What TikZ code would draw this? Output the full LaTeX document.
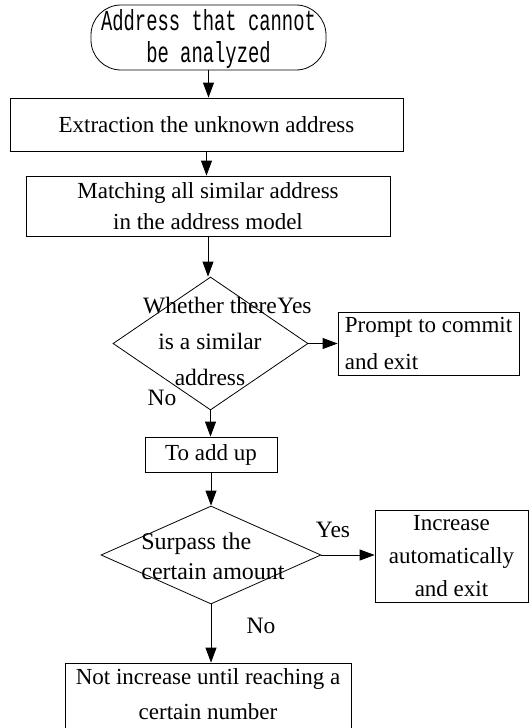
\documentclass[tikz,border=0pt]{standalone}
\usepackage{fontspec}
\setmainfont{Liberation Serif}
\newfontfamily\termfont[FakeStretch=0.65]{Liberation Mono}
\usetikzlibrary{arrows.meta,shapes.geometric}

\begin{document}
\begin{tikzpicture}[x=1pt,y=-1pt,line width=0.8pt,
  terminal/.style={draw,rectangle,rounded corners=30pt,inner sep=0pt,align=center,
    font=\termfont\fontsize{29}{32}\selectfont},
  procbox/.style={draw,rectangle,inner sep=0pt,align=center},
  decision/.style={draw,diamond,inner sep=0pt},
  dectext/.style={inner sep=0pt},
  branch/.style={inner sep=0pt,anchor=base,font=\fontsize{23.5}{28}\selectfont},
  flow/.style={-{Triangle[width=11pt,length=15pt]}}]
\useasboundingbox (0,0) rectangle (529,728);
\clip (0,0) rectangle (529,728);

% start terminal
\node[terminal,minimum width=235pt,minimum height=65pt,text height=49pt,text depth=0pt]
  (start) at (208.5,37.5) {Address that cannot\\be analyzed};

% processing steps
\node[procbox,minimum width=393pt,minimum height=53pt,font=\fontsize{23}{28}\selectfont]
  (extract) at (206.5,124.5) {Extraction the unknown address};
\node[procbox,minimum width=364pt,minimum height=60pt,font=\fontsize{23}{31}\selectfont]
  (match) at (208,206) {Matching all similar address\\in the address model};

% first decision
\node[decision,minimum width=195pt,minimum height=133pt] (dec1) at (210.5,343.5) {};
\node[dectext,align=center,font=\fontsize{23.5}{36}\selectfont] (dec1text) at (210,341)
  {Whether there\\is a similar\\address};
\node[procbox,align=left,minimum width=181pt,minimum height=63pt,font=\fontsize{23}{37}\selectfont]
  (prompt) at (428.5,343.5) {Prompt to commit\\and exit};

\node[procbox,minimum width=132pt,minimum height=35pt,font=\fontsize{23}{28}\selectfont]
  (addup) at (211,454.5) {To add up};

% second decision
\node[decision,minimum width=220pt,minimum height=98pt] (dec2) at (211,555) {};
\node[dectext,align=left,font=\fontsize{24}{30}\selectfont] (dec2text) at (213,556)
  {Surpass the\\certain amount};
\node[procbox,minimum width=153pt,minimum height=92pt,font=\fontsize{23}{33}\selectfont]
  (increase) at (451.5,556) {Increase\\automatically\\and exit};

% last step, its lower edge runs past the page
\node[procbox,minimum width=286pt,minimum height=72pt,text depth=10pt,
  font=\fontsize{23}{35}\selectfont]
  (final) at (208,699) {Not increase until reaching a\\certain number};

% branch labels
\node[branch] (yes1) at (294.5,313) {Yes};
\node[branch] (no1) at (162,405) {No};
\node[branch] (yes2) at (333,537) {Yes};
\node[branch] (no2) at (261,633) {No};

% connectors
\draw[flow] (start.south) -- (start.south |- extract.north);
\draw[flow] (extract.south) -- (extract.south |- match.north);
\draw[flow] (match.south) -- (match.south |- dec1.north);
\draw[flow] (dec1.east) -- (dec1.east -| prompt.west);
\draw[flow] (dec1.south) -- (dec1.south |- addup.north);
\draw[flow] (addup.south) -- (addup.south |- dec2.north);
\draw[flow] (dec2.east) -- (dec2.east -| increase.west);
\draw[flow] (dec2.south) -- (dec2.south |- final.north);
\end{tikzpicture}
\end{document}
